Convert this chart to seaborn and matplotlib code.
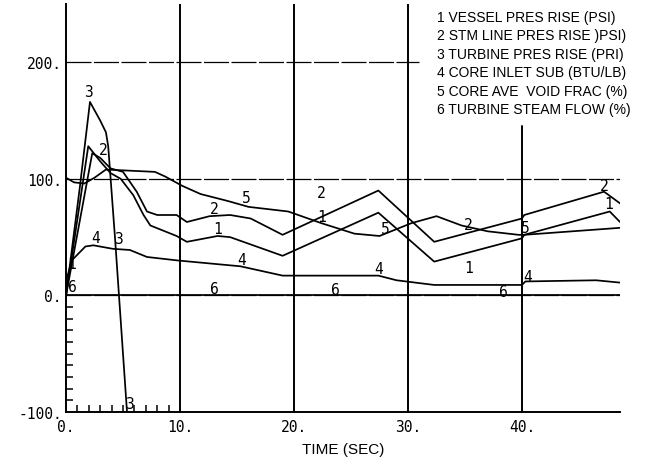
import matplotlib
matplotlib.use("Agg")
import matplotlib.pyplot as plt
import seaborn as sns
import pandas as pd
from matplotlib.ticker import FixedLocator, FuncFormatter

# ---- transient traces (time in seconds) ----
t_vessel = [0.0, 1.95, 3.0, 3.9, 4.8, 5.9, 6.8, 7.4, 9.7, 10.6, 13.3, 14.4, 19.0,
            27.4, 32.3, 40.0, 40.2, 47.7, 48.6]
v_vessel = [0, 128, 115, 105, 100, 86, 69, 60, 51, 46, 51, 50, 34,
            71, 29, 49, 52, 72, 63]

t_stmline = [0.0, 2.3, 3.0, 3.9, 5.0, 6.2, 7.1, 8.0, 9.7, 10.6, 12.6, 14.4, 16.2,
             19.0, 27.4, 32.3, 40.0, 40.2, 47.2, 48.6]
v_stmline = [0, 122, 118, 109, 106, 89, 72, 69, 69, 63, 68, 69, 66,
             52, 90, 46, 66, 69, 89, 79]

t_turbine = [0.0, 1.2, 2.1, 3.0, 3.5, 3.7, 4.3, 5.35]
v_turbine = [0, 92, 166, 150, 140, 128, 49, -100]

t_inletsub = [0.0, 0.5, 1.7, 2.4, 4.1, 5.6, 7.1, 9.8, 12.0, 15.3, 19.0, 27.4,
              29.0, 32.3, 40.0, 40.3, 46.5, 48.6]
v_inletsub = [12, 30, 42, 43, 40, 39, 33, 30, 28, 25, 17, 17,
              13, 9, 9, 12, 13, 11]

t_void = [0.0, 0.7, 1.6, 2.5, 3.5, 7.8, 8.7, 10.2, 11.8, 14.2, 16.0, 19.5, 22.4,
          25.3, 27.5, 30.3, 32.5, 34.7, 37.0, 39.7, 40.2, 48.6]
v_void = [101, 97, 96, 101, 108, 106, 102, 94, 87, 81, 76, 72, 62,
          53, 51, 62, 68, 60, 55, 52, 52, 58]

t_steam = [0.0, 48.6]
v_steam = [0, 0]

series_ids = ["1", "2", "3", "4", "5", "6"]
legend_labels = [
    "1 VESSEL PRES RISE (PSI)",
    "2 STM LINE PRES RISE )PSI)",
    "3 TURBINE PRES RISE (PRI)",
    "4 CORE INLET SUB (BTU/LB)",
    "5 CORE AVE  VOID FRAC (%)",
    "6 TURBINE STEAM FLOW (%)",
]

y_ticks = [-100, 0, 100, 200]
x_ticks = [0, 10, 20, 30, 40]

# curve identification numbers written along the traces
curve_tags = [
    ("3", 2.0, 175), ("2", 3.3, 125), ("4", 2.6, 50), ("3", 4.6, 49), ("3", 5.6, -93),
    ("1", 0.5, 27), ("6", 0.6, 8),
    ("2", 13.0, 75), ("1", 13.3, 57), ("5", 15.8, 84), ("4", 15.4, 31), ("6", 13.0, 6),
    ("2", 22.4, 88), ("1", 22.4, 68), ("5", 28.0, 57), ("4", 27.4, 23), ("6", 23.6, 5),
    ("2", 35.3, 61), ("1", 35.3, 24), ("5", 40.3, 58), ("4", 40.5, 16), ("6", 38.4, 3),
    ("2", 47.2, 94), ("1", 47.6, 79),
]

frames = []
for sid, t, v in zip(series_ids,
                     [t_vessel, t_stmline, t_turbine, t_inletsub, t_void, t_steam],
                     [v_vessel, v_stmline, v_turbine, v_inletsub, v_void, v_steam]):
    frames.append(pd.DataFrame({"time": t, "value": v, "series": sid}))
df = pd.concat(frames, ignore_index=True)

sns.set_theme(style="white")
plt.rcParams["font.family"] = ["DejaVu Sans"]

fig = plt.figure(figsize=(6.57, 4.64), dpi=100)
ax = fig.add_axes([0.1005, 0.1099, 0.8432, 0.8793])

XMAX = 48.6
ax.set_xlim(0, XMAX)
ax.set_ylim(-100, 250)

# grid: dashed horizontals, solid verticals
dash = (20, 2)
ax.axhline(200, xmin=0, xmax=31.0 / XMAX, color="black", lw=0.9, dashes=dash, zorder=1)
ax.axhline(100, color="black", lw=0.9, dashes=dash, zorder=1)
ax.axhline(0, color="black", lw=0.9, dashes=dash, zorder=1)
for xv in x_ticks[1:4]:
    ax.axvline(xv, color="black", lw=1.4, zorder=1)
ax.axvline(x_ticks[4], ymin=0, ymax=(145 + 100) / 350, color="black", lw=1.4, zorder=1)

for sid in series_ids:
    sub = df[df["series"] == sid]
    sns.lineplot(data=sub, x="time", y="value", ax=ax, color="black", lw=1.25,
                 estimator=None, sort=False, legend=False, zorder=3)

for txt, xt, yt in curve_tags:
    ax.text(xt, yt, txt, fontsize=10.5, family="DejaVu Sans Mono",
            ha="center", va="center", color="black", zorder=4)

for s in ["top", "right"]:
    ax.spines[s].set_visible(False)
for s in ["left", "bottom"]:
    ax.spines[s].set_color("black")
    ax.spines[s].set_linewidth(1.4)

ax.xaxis.set_major_locator(FixedLocator(x_ticks))
ax.yaxis.set_major_locator(FixedLocator(y_ticks))
ax.xaxis.set_minor_locator(FixedLocator(list(range(1, 10))))
ax.yaxis.set_minor_locator(FixedLocator(list(range(-90, 0, 10))))
fmt = FuncFormatter(lambda v, p: f"{v:.0f}.")
ax.xaxis.set_major_formatter(fmt)
ax.yaxis.set_major_formatter(fmt)
ax.tick_params(axis="both", which="both", bottom=True, left=True, top=False, right=False)
ax.tick_params(axis="both", which="major", length=0, labelsize=10.5, colors="black")
ax.tick_params(axis="x", which="major", pad=5)
ax.tick_params(axis="y", which="major", pad=3)
ax.tick_params(axis="both", which="minor", direction="in", length=5, width=1.1, color="black")
for lab in ax.get_xticklabels() + ax.get_yticklabels():
    lab.set_family("DejaVu Sans Mono")

ax.set_xlabel("TIME (SEC)", fontsize=11, family="Liberation Sans", labelpad=6, color="black")
ax.set_ylabel("")

for i, lab in enumerate(legend_labels):
    fig.text(437 / 657, 1 - (18 + i * 18.4) / 464, lab, fontsize=10,
             family="Liberation Sans", ha="left", va="center", color="black")

fig.savefig("out.png", dpi=100)
